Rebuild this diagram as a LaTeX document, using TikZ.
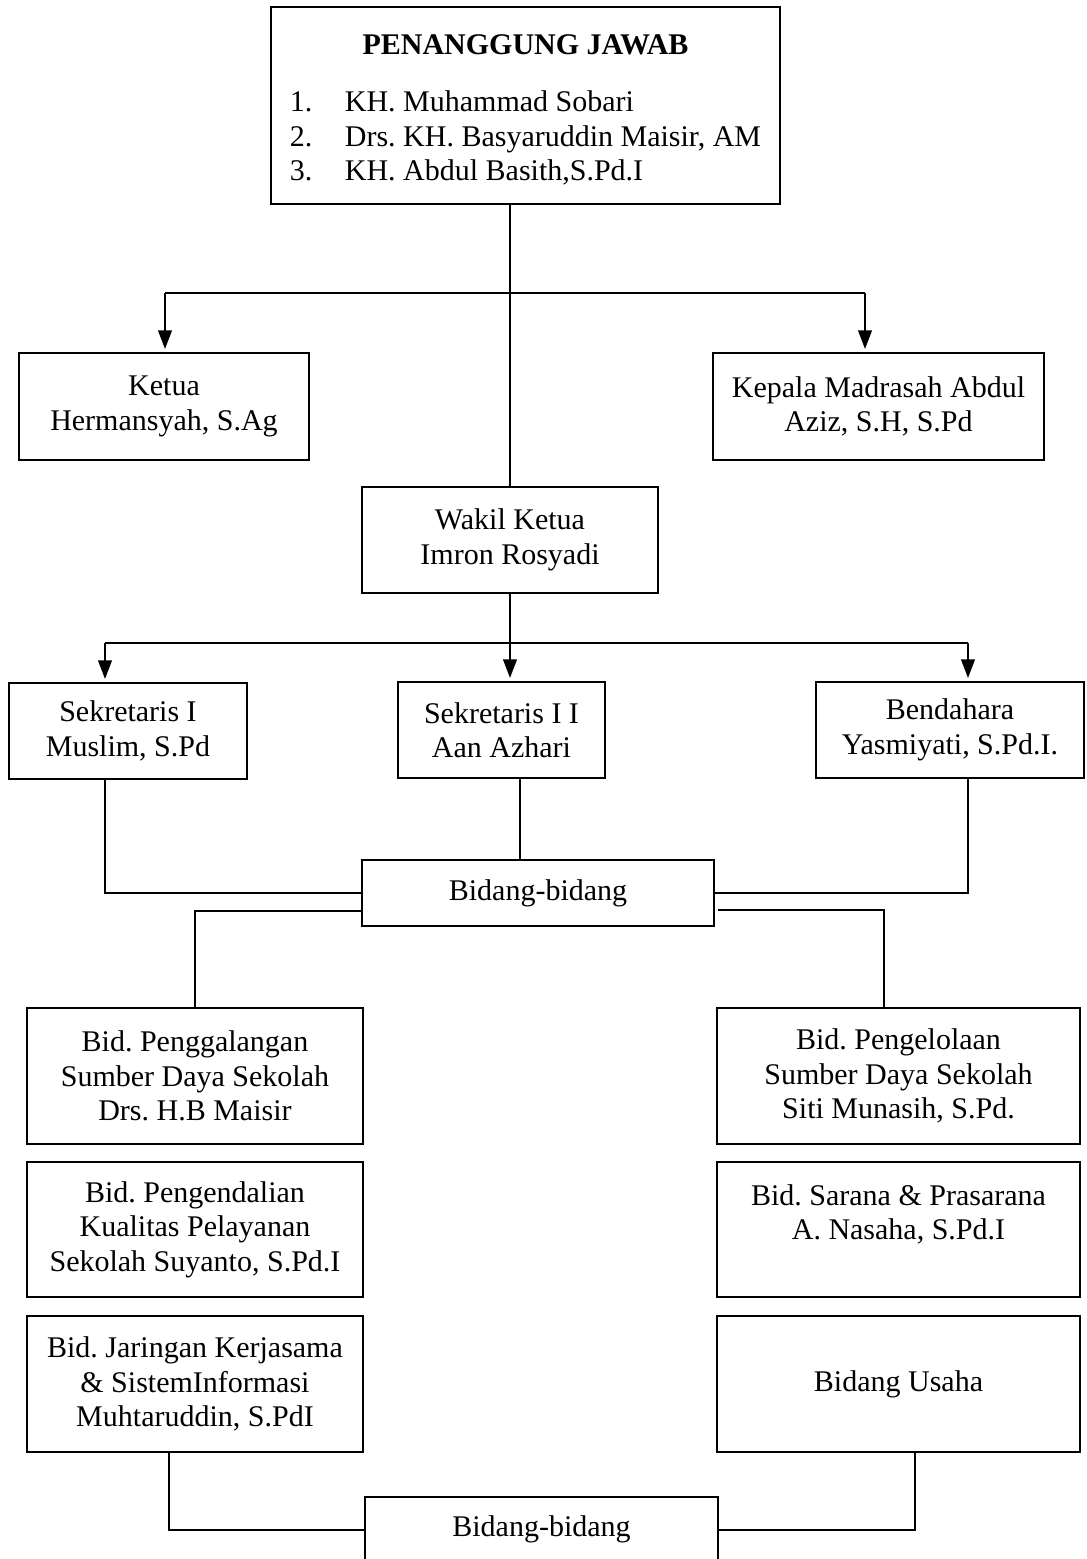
\documentclass[tikz,border=0pt]{standalone}
\usepackage{fontspec}
\setmainfont{Liberation Serif}
\usepackage{tikz}
\usetikzlibrary{arrows.meta,positioning}
\frenchspacing

\begin{document}
\begin{tikzpicture}[x=0.4pt,y=-0.4pt,line width=0.8pt,
    font=\fontsize{12}{13.8}\selectfont,
    box/.style={draw, rectangle, align=center, inner sep=0pt},
    panah/.style={->, shorten >=1.2pt},
    >={Triangle[length=7.5pt,width=5.5pt]}]
            \useasboundingbox (0,0) rectangle (1086,1559);

            \node[box, minimum width=203.6pt, minimum height=78.8pt] (pj) at (525.5,105.5)
                {\begin{tabular}{@{}p{22pt}@{}l@{}}
                 \multicolumn{2}{c}{\rule{0pt}{14pt}\textbf{PENANGGUNG JAWAB}}\\[9pt]
                 1. & KH. Muhammad Sobari\\
                 2. & Drs. KH. Basyaruddin Maisir, AM\\
                 3. & KH. Abdul Basith,S.Pd.I
                 \end{tabular}};

            \node[box, minimum width=116pt, minimum height=42.8pt] (ketua) at (164,406.5) {Ketua\\Hermansyah, S.Ag};
            \node[box, minimum width=132.4pt, minimum height=42.8pt] (kepala) at (878.5,406.5) {Kepala Madrasah Abdul\\Aziz, S.H, S.Pd};
            \node[box, minimum width=118.4pt, minimum height=42.4pt] (wakil) at (510,540) {Wakil Ketua\\Imron Rosyadi};

            \node[box, minimum width=95.2pt, minimum height=38.4pt] (sek1) at (128,731) {Sekretaris I\\Muslim, S.Pd};
            \node[box, minimum width=82.8pt, minimum height=38.4pt] (sek2) at (501.5,730) {Sekretaris I I\\Aan Azhari};
            \node[box, minimum width=107.2pt, minimum height=38.4pt] (bend) at (950,730) {Bendahara\\Yasmiyati, S.Pd.I.};

            \node[box, minimum width=140.8pt, minimum height=26.4pt] (bidang) at (538,893) {Bidang-bidang};

            % kolom kiri
            \node[box, minimum width=134.4pt, minimum height=54.4pt] (galang) at (195,1076) {Bid. Penggalangan\\Sumber Daya Sekolah\\Drs. H.B Maisir};
            \node[box, minimum width=134.4pt, minimum height=54pt] (kendali) at (195,1229.5) {Bid. Pengendalian\\Kualitas Pelayanan\\Sekolah Suyanto, S.Pd.I};
            \node[box, minimum width=134.4pt, minimum height=54.4pt] (jaring) at (195,1384) {Bid. Jaringan Kerjasama\\\& SistemInformasi\\Muhtaruddin, S.PdI};

            % kolom kanan
            \node[box, minimum width=145.2pt, minimum height=54.4pt] (kelola) at (898.5,1076) {Bid. Pengelolaan\\Sumber Daya Sekolah\\Siti Munasih, S.Pd.};
            \node[box, minimum width=145.2pt, minimum height=54pt] (sarana) at (898.5,1229.5) {Bid. Sarana \& Prasarana\\A. Nasaha, S.Pd.I\\\mbox{}};
            \node[box, minimum width=145.2pt, minimum height=54.4pt] (usaha) at (898.5,1384) {Bidang Usaha};

            \node[box, minimum width=141.2pt, minimum height=26pt] (bidang2) at (541.5,1529.5) {Bidang-bidang};

            \coordinate (kl) at (165,293);
            \coordinate (kr) at (865,293);
            \coordinate (sl) at (105,643);
            \coordinate (sr) at (968,643);

            \draw (pj.south -| wakil.north) -- (wakil.north);
            \draw (kl) -- (kr);
            \draw[panah] (kl) -- (kl |- ketua.north);
            \draw[panah] (kr) -- (kr |- kepala.north);

            \draw (sl) -- (sr);
            \draw[panah] (wakil.south) -- (wakil.south |- sek2.north);
            \draw[panah] (sl) -- (sl |- sek1.north);
            \draw[panah] (sr) -- (sr |- bend.north);

            \draw (sl |- sek1.south) |- (bidang.west);
            \draw ([xshift=7.4pt]sek2.south) -- ([xshift=7.4pt]sek2.south |- bidang.north);
            \draw (sr |- bend.south) |- (bidang.east);

            \draw ([yshift=-7.2pt]bidang.west) -| (galang.north);
            \draw ([xshift=1.2pt,yshift=-6.8pt]bidang.east) -| ([xshift=-5.8pt]kelola.north);

            \draw ([xshift=-10.4pt]jaring.south) |- (bidang2.west);
            \draw ([xshift=6.6pt]usaha.south) |- (bidang2.east);
\end{tikzpicture}
\end{document}
